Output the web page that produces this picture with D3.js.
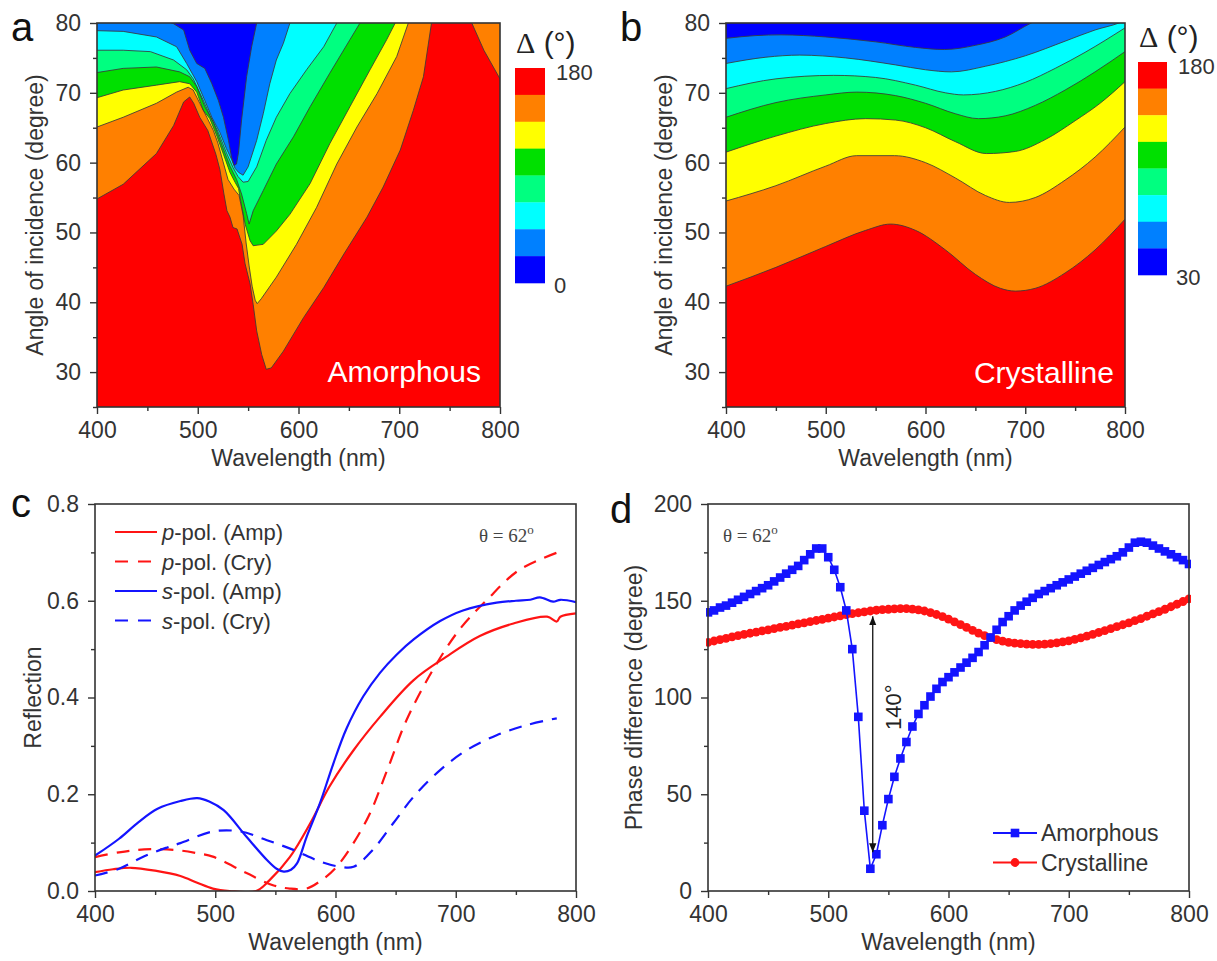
<!DOCTYPE html>
<html>
<head>
<meta charset="utf-8">
<script src="https://cdn.jsdelivr.net/npm/d3@7"></script>
<style>
	html, body { margin: 0; padding: 0; background: #fff; }
	svg { display: block; font-family: "Liberation Sans", Arial, sans-serif; }
</style>
</head>
<body>
<svg id="fig" width="1217" height="961"></svg>
<script>
;(() => {
	'use strict';

	// ---- panel a: contour level boundaries, [wavelength nm, angle deg], lowest level (157.5) first
	const amoB1 = [[400,54.8],[426,56.9],[459,61.3],[476,65.3],[486,68.7],[492,69.4],[496,68.5],[502,66.5],[510,64.6],[518,61.2],[522,59],[526,55.5],[529,53.1],[532,52.2],[535,50.7],[539,50.5],[544,48.3],[547,45.5],[552,42.6],[555,39.7],[558.5,35.9],[563.5,32.5],[568,30.4],[573,30.6],[585,33],[605,37.8],[625,42.1],[645,46.9],[668,52.2],[684,56.5],[701,61.8],[714,67.5],[724,72.3],[732,80],[740,84],[765,84],[772,80],[784,76.1],[800,72]];
	const amoB2 = [[400,65.1],[426,66.5],[459,68.5],[479,70.1],[490.5,70.8],[495.5,70.4],[502,68.5],[509,66.5],[515.5,64.6],[520,62.8],[525,60.2],[530,57.6],[536,56.2],[541,55.3],[545,52.5],[548,48.5],[551,45.2],[554,42.3],[557,40.3],[559,39.8],[563,40.5],[578,43.6],[598,48.3],[618,53.6],[638,59.8],[658,65.1],[678,69.9],[697.5,75.2],[709,80],[720,84],[800,84]];
	const amoB3 = [[400,69.3],[426,70.4],[459,71.1],[482,71.6],[492,71.3],[499,70.1],[505.5,67.5],[512,66.3],[519,63.8],[525.5,61.2],[532,58.6],[537,57.2],[540.5,56.3],[542,55],[547,51.2],[552,48.8],[555,48.1],[565,48.3],[578,50.2],[591.5,52.6],[611.5,57],[631,62.7],[651,68],[671,73.3],[687.5,77.6],[696,80],[705,84],[800,84]];
	const amoB4 = [[400,72.9],[426,73.5],[459,73.7],[482,73],[492,72.3],[499,70.9],[507,68],[515.5,65.8],[524,62.5],[532,59.5],[538.5,57.6],[543.5,55.5],[548.5,52.7],[551,51.2],[555,53.1],[565,56],[578,59.8],[595,63.7],[611.5,68],[631,72.8],[651,77.6],[661,80],[670,84],[800,84]];
	const amoB5 = [[400,76.1],[426,76.1],[453,75.9],[476,74.7],[489,73.3],[495.5,72],[504,69.4],[512,66.8],[520.5,64.3],[528.5,61.4],[535,59.3],[540,58],[545,57.2],[550,57.3],[558.5,59.4],[568,63.2],[578,66.5],[591.5,69.9],[608,73.3],[625,76.6],[638,80],[645,84],[800,84]];
	const amoB6 = [[400,78.9],[426,78.8],[459,78],[479,76.6],[489,74.2],[499,71.6],[507,68.9],[514,66.5],[522,64.3],[528.5,62],[533.5,60.5],[537,59.2],[540.5,58.6],[545,58.2],[550,59.4],[558.5,63.2],[565,67],[571.5,71.3],[578,74.7],[585,77.1],[591.5,80],[600,84],[800,84]];
	const amoB7 = [[400,83],[460,82],[474,80],[476,79.9],[486,79],[492,76.1],[499,74.2],[507,73.5],[514,71.3],[520.5,68.9],[525.5,66.5],[530.5,63.2],[533.5,60.8],[536,59.6],[538.5,59.8],[540.5,61.5],[543.5,66.1],[548.5,72.3],[553.5,76.6],[558.5,80],[565,84],[800,84]];

	// ---- panel b: contour level boundaries
	const cryB1 = [[400,42.3],[450,45],[500,48],[540,50.3],[565,51.2],[590,50.3],[620,47.5],[650,44],[675,42],[690,41.6],[710,42],[740,44.2],[770,47.5],[800,51.9]];
	const cryB2 = [[400,54.5],[450,56.7],[500,59.5],[531,61],[569,61],[600,60],[630,57.8],[660,55.3],[684,54.3],[710,55],[740,57.5],[770,60.8],[800,65.1]];
	const cryB3 = [[400,61.5],[450,63.8],[500,65.6],[540,66.3],[570,66.1],[600,65],[630,63],[661,61.3],[690,61.6],[720,63.3],[750,66],[775,68.5],[800,71.6]];
	const cryB4 = [[400,66.5],[450,68.6],[500,69.7],[531,70.1],[570,69.6],[600,68.5],[630,67],[653,66.3],[680,66.7],[710,68.2],[740,70.4],[770,73],[800,75.9]];
	const cryB5 = [[400,70.6],[450,72],[508,72.5],[550,72.2],[590,71.1],[620,70],[638,69.7],[670,70.2],[700,71.5],[730,73.5],[760,75.8],[800,79.3]];
	const cryB6 = [[400,74.2],[440,75.1],[474,75.4],[520,75],[570,74],[600,73.3],[626,73],[660,73.8],[700,75.3],[740,77.4],[770,79],[794,80],[810,81]];
	const cryB7 = [[400,77.8],[430,78.2],[455,78.3],[500,78],[550,77.3],[590,76.5],[619,76.2],[650,76.8],[680,78],[706,80],[730,81.5],[800,83]];

	// colour bands from 180 (bottom of the plot) down to the lowest level
	const bandColors = ['#ff0000', '#ff8000', '#ffff00', '#00e000', '#00ff80', '#00ffff', '#0080ff', '#0000ff'];

	// ---- panel c: reflection, [wavelength, R]
	const pAmp = [[400,0.039],[415,0.045],[430,0.048],[450,0.042],[471,0.031],[485,0.017],[498,0.005],[512,0],[534,0],[545,0.022],[562,0.07],[579,0.14],[595,0.216],[615,0.291],[637,0.36],[665,0.436],[692,0.484],[720,0.527],[748,0.553],[776,0.567],[784,0.557],[787,0.567],[800,0.574]];
	const pCry = [[400,0.07],[420,0.08],[441,0.086],[466,0.085],[485,0.078],[498,0.071],[526,0.037],[548,0.012],[562,0.005],[576,0.005],[587,0.02],[601,0.05],[626,0.147],[643,0.25],[659,0.353],[681,0.457],[703,0.54],[726,0.602],[753,0.664],[787,0.702]];
	const sAmp = [[400,0.073],[420,0.108],[436,0.142],[452,0.17],[471,0.186],[485,0.192],[495,0.185],[507,0.167],[526,0.112],[543,0.064],[551,0.046],[557,0.04],[563,0.044],[568,0.057],[576,0.112],[587,0.181],[598,0.262],[609,0.335],[623,0.402],[637,0.451],[651,0.489],[665,0.52],[687,0.558],[706,0.58],[734,0.596],[750,0.6],[762,0.602],[770,0.607],[781,0.598],[787,0.602],[800,0.597]];
	const sCry = [[400,0.032],[420,0.046],[441,0.072],[460,0.09],[471,0.099],[498,0.123],[521,0.123],[543,0.105],[565,0.085],[587,0.061],[604,0.05],[615,0.05],[631,0.085],[648,0.14],[665,0.195],[687,0.25],[709,0.291],[734,0.322],[759,0.343],[784,0.357]];

	// ---- panel d: phase difference at 5 nm steps, 400..800
	const phaseWl = d3.range(400, 801, 5);
	const ampPhase = [144,145,146.5,147.5,149,150.5,152,153.5,155,156.5,
		158,160,162,164,166,168,171,174,177,177,
		172.5,166,157,145,125,90,41.5,11.5,19,34,
		47.5,59,68.5,77,85,91.5,96,100.5,104.5,108,
		110.5,113,115.5,118,120.5,123.5,127,131,135,139,
		142,145,147.5,149.5,151.5,153.5,155,156.5,158,159.5,
		161,162.5,164,165.5,167,168.5,170,171.5,173,175,
		177.5,180,180.5,180,178.5,177,175.5,174,172.5,171,
		169];
	const cryPhase = [128.5,129.2,129.9,130.6,131.3,132,132.6,133.2,133.8,134.4,
		135,135.6,136.2,136.8,137.4,138,138.6,139.2,139.8,140.4,
		141,141.6,142.2,142.8,143.3,143.8,144.3,144.7,145.1,145.4,
		145.6,145.8,145.9,145.9,145.7,145.3,144.7,143.9,142.9,141.8,
		140.5,139.1,137.7,136.2,134.7,133.3,132,130.9,129.9,129.1,
		128.5,128.1,127.8,127.6,127.5,127.5,127.6,127.8,128.2,128.7,
		129.3,130,130.8,131.7,132.6,133.6,134.6,135.6,136.6,137.6,
		138.6,139.7,140.8,142,143.2,144.4,145.6,146.9,148.2,149.6,
		151];

	const wlMajor = [400, 500, 600, 700, 800],
		wlMinor = [450, 550, 650, 750],
		angMajor = [30, 40, 50, 60, 70, 80],
		angMinor = [25, 35, 45, 55, 65, 75];

	const ink = '#333',
		red = '#ff1414',
		blue = '#1414ff',
		fontSize = 23,
		sq = 8.6,   // square marker side
		dot = 4.4;  // circle marker radius

	const svg = d3.select('#fig');

	/**
	* ticks, tick labels, frame and titles of one panel
	*/
	const drawAxes = function(g, x, y, o) {
		const [xl, xr] = x.range(),
			[yb, yt] = y.range();

		const styleAxis = (sel) => {
			sel.attr('font-family', null).attr('font-size', null);
			sel.select('.domain').remove();
			sel.selectAll('line').attr('stroke', ink).attr('stroke-width', 1.4);
			sel.selectAll('text').attr('fill', ink).style('font-size', fontSize + 'px');
		};

		g.append('g').attr('transform', `translate(0,${yb})`)
			.call(d3.axisBottom(x).tickValues(o.xMinor).tickSize(4).tickFormat(''))
			.call(styleAxis);
		g.append('g').attr('transform', `translate(0,${yb})`)
			.call(d3.axisBottom(x).tickValues(o.xMajor).tickSize(7).tickPadding(8).tickFormat(d3.format('d')))
			.call(styleAxis);
		g.append('g').attr('transform', `translate(${xl},0)`)
			.call(d3.axisLeft(y).tickValues(o.yMinor).tickSize(4).tickFormat(''))
			.call(styleAxis);
		g.append('g').attr('transform', `translate(${xl},0)`)
			.call(d3.axisLeft(y).tickValues(o.yMajor).tickSize(7).tickPadding(9).tickFormat(o.yFmt))
			.call(styleAxis);

		g.append('rect')
			.attr('x', xl).attr('y', yt)
			.attr('width', xr - xl).attr('height', yb - yt)
			.attr('fill', 'none').attr('stroke', ink).attr('stroke-width', 1.6);

		g.append('text')
			.attr('x', (xl + xr) / 2).attr('y', yb + 59)
			.attr('text-anchor', 'middle').attr('fill', ink)
			.style('font-size', fontSize + 'px')
			.text('Wavelength (nm)');

		g.append('text')
			.attr('transform', `translate(${o.yTitleX},${(yb + yt) / 2}) rotate(-90)`)
			.attr('text-anchor', 'middle').attr('fill', ink)
			.style('font-size', fontSize + 'px')
			.text(o.yTitle);

		g.append('text')
			.attr('x', o.letter[1]).attr('y', o.letter[2])
			.attr('fill', '#111')
			.style('font-size', '40px')
			.text(o.letter[0]);
	};

	/**
	* filled contour bands drawn from the level boundaries
	*/
	const drawContour = function(g, x, y, bounds, curve, clipId) {
		const [xl, xr] = x.range(),
			[yb, yt] = y.range(),
			top = y.domain()[1] + 10;

		g.append('clipPath').attr('id', clipId)
			.append('rect')
			.attr('x', xl).attr('y', yt)
			.attr('width', xr - xl).attr('height', yb - yt);

		const body = g.append('g').attr('clip-path', `url(#${clipId})`);

		body.append('rect')
			.attr('x', xl).attr('y', yt)
			.attr('width', xr - xl).attr('height', yb - yt)
			.attr('fill', bandColors[0]);

		const area = d3.area().curve(curve)
			.x(d => x(d[0]))
			.y0(d => y(d[1]))
			.y1(() => y(top));

		const line = d3.line().curve(curve)
			.x(d => x(d[0]))
			.y(d => y(d[1]));

		bounds.forEach((b, i) => {
			body.append('path').datum(b)
				.attr('d', area)
				.attr('fill', bandColors[i + 1]);
		});
		bounds.forEach((b) => {
			body.append('path').datum(b)
				.attr('d', line)
				.attr('fill', 'none')
				.attr('stroke', '#3a3a3a')
				.attr('stroke-width', 1)
				.attr('stroke-opacity', 0.85);
		});
	};

	/**
	* 8 step colour bar with its end labels
	*/
	const drawColorbar = function(g, x0, yTop, yBot, w, lo, hi) {
		const s = d3.scaleLinear().domain([0, bandColors.length]).range([yTop, yBot]);

		g.selectAll(null)
			.data(bandColors)
			.enter()
			.append('rect')
			.attr('x', x0)
			.attr('y', (d, i) => s(i))
			.attr('width', w)
			.attr('height', (d, i) => s(i + 1) - s(i) + 0.3)
			.attr('fill', d => d);

		g.append('text')
			.attr('x', x0 + w + 11).attr('y', yTop + 12)
			.attr('fill', ink).style('font-size', '22px')
			.text(hi);
		g.append('text')
			.attr('x', x0 + w + 9).attr('y', yBot + 10)
			.attr('fill', ink).style('font-size', '22px')
			.text(lo);

		const t = g.append('text')
			.attr('x', x0 + 1).attr('y', yTop - 15)
			.attr('fill', '#222').style('font-size', '30px');
		t.append('tspan').attr('font-family', '"Liberation Serif", serif').text('\u0394');
		t.append('tspan').text(' (\u00b0)');
	};


	// ===== panel a =====
	const xa = d3.scaleLinear().domain([400, 800]).range([97, 500]),
		ya = d3.scaleLinear().domain([25, 80]).range([407, 23]);
	const ga = svg.append('g');
	drawContour(ga, xa, ya, [amoB1, amoB2, amoB3, amoB4, amoB5, amoB6, amoB7], d3.curveLinear, 'clipA');
	drawAxes(ga, xa, ya, {
		xMajor: wlMajor, xMinor: wlMinor, yMajor: angMajor, yMinor: angMinor,
		yFmt: d3.format('d'), yTitle: 'Angle of incidence (degree)', yTitleX: 43,
		letter: ['a', 11, 41]
	});
	ga.append('text')
		.attr('x', 481).attr('y', 382)
		.attr('text-anchor', 'end').attr('fill', '#fff')
		.style('font-size', '30px')
		.text('Amorphous');
	drawColorbar(ga, 515, 68, 283, 30, '0', '180');


	// ===== panel b =====
	const xb = d3.scaleLinear().domain([400, 800]).range([726, 1125]),
		yb = d3.scaleLinear().domain([25, 80]).range([407, 23]);
	const gb = svg.append('g');
	drawContour(gb, xb, yb, [cryB1, cryB2, cryB3, cryB4, cryB5, cryB6, cryB7], d3.curveMonotoneX, 'clipB');
	drawAxes(gb, xb, yb, {
		xMajor: wlMajor, xMinor: wlMinor, yMajor: angMajor, yMinor: angMinor,
		yFmt: d3.format('d'), yTitle: 'Angle of incidence (degree)', yTitleX: 672,
		letter: ['b', 620, 41]
	});
	gb.append('text')
		.attr('x', 1114).attr('y', 383)
		.attr('text-anchor', 'end').attr('fill', '#fff')
		.style('font-size', '30px')
		.text('Crystalline');
	drawColorbar(gb, 1138, 62, 275, 29, '30', '180');


	// ===== panel c =====
	const xc = d3.scaleLinear().domain([400, 800]).range([95, 576]),
		yc = d3.scaleLinear().domain([0, 0.8]).range([891, 504]);
	const gc = svg.append('g');

	gc.append('clipPath').attr('id', 'clipC')
		.append('rect').attr('x', 95).attr('y', 504).attr('width', 481).attr('height', 387);

	const reflLine = d3.line().curve(d3.curveCatmullRom.alpha(0.5))
		.x(d => xc(d[0]))
		.y(d => yc(d[1]));

	const reflSeries = [
		{ data: pAmp, color: red, dash: null, pol: 'p', name: '-pol. (Amp)' },
		{ data: pCry, color: red, dash: '13,9', pol: 'p', name: '-pol. (Cry)' },
		{ data: sAmp, color: blue, dash: null, pol: 's', name: '-pol. (Amp)' },
		{ data: sCry, color: blue, dash: '13,9', pol: 's', name: '-pol. (Cry)' }
	];

	const reflBody = gc.append('g').attr('clip-path', 'url(#clipC)');
	reflSeries.forEach((s) => {
		reflBody.append('path').datum(s.data)
			.attr('d', reflLine)
			.attr('fill', 'none')
			.attr('stroke', s.color)
			.attr('stroke-width', 2.2)
			.attr('stroke-dasharray', s.dash);
	});

	drawAxes(gc, xc, yc, {
		xMajor: wlMajor, xMinor: wlMinor, yMajor: [0, 0.2, 0.4, 0.6, 0.8], yMinor: [0.1, 0.3, 0.5, 0.7],
		yFmt: d3.format('.1f'), yTitle: 'Reflection', yTitleX: 41,
		letter: ['c', 11, 517]
	});

	// legend c
	reflSeries.forEach((s, i) => {
		const cy = 532 + i * 29.5;
		gc.append('line')
			.attr('x1', 115).attr('x2', 157)
			.attr('y1', cy).attr('y2', cy)
			.attr('stroke', s.color).attr('stroke-width', 2.2)
			.attr('stroke-dasharray', s.dash ? '13,10' : null);
		const t = gc.append('text')
			.attr('x', 162).attr('y', cy + 8)
			.attr('fill', ink).style('font-size', '22px');
		t.append('tspan').attr('font-style', 'italic').text(s.pol);
		t.append('tspan').text(s.name);
	});

	const thetaC = gc.append('text')
		.attr('x', 479).attr('y', 542)
		.attr('fill', '#444')
		.attr('font-family', '"Liberation Serif", serif')
		.style('font-size', '19px')
		.text('\u03b8 = 62');
	thetaC.append('tspan').attr('dy', -8).style('font-size', '13px').text('o');


	// ===== panel d =====
	const xd = d3.scaleLinear().domain([400, 800]).range([708, 1189]),
		yd = d3.scaleLinear().domain([0, 200]).range([891, 504]);
	const gd = svg.append('g');

	gd.append('clipPath').attr('id', 'clipD')
		.append('rect').attr('x', 706).attr('y', 504).attr('width', 485).attr('height', 389);

	const phaseBody = gd.append('g').attr('clip-path', 'url(#clipD)');
	const phaseLine = d3.line()
		.x(d => xd(d[0]))
		.y(d => yd(d[1]));

	const cryPts = phaseWl.map((w, i) => [w, cryPhase[i]]),
		ampPts = phaseWl.map((w, i) => [w, ampPhase[i]]);

	phaseBody.append('path').datum(cryPts)
		.attr('d', phaseLine).attr('fill', 'none')
		.attr('stroke', red).attr('stroke-width', 1.6);
	phaseBody.selectAll('.cry-pt')
		.data(cryPts)
		.enter()
		.append('circle')
		.attr('class', 'cry-pt')
		.attr('cx', d => xd(d[0]))
		.attr('cy', d => yd(d[1]))
		.attr('r', dot)
		.attr('fill', red);

	phaseBody.append('path').datum(ampPts)
		.attr('d', phaseLine).attr('fill', 'none')
		.attr('stroke', blue).attr('stroke-width', 1.6);
	phaseBody.selectAll('.amp-pt')
		.data(ampPts)
		.enter()
		.append('rect')
		.attr('class', 'amp-pt')
		.attr('x', d => xd(d[0]) - sq / 2)
		.attr('y', d => yd(d[1]) - sq / 2)
		.attr('width', sq)
		.attr('height', sq)
		.attr('fill', blue);

	drawAxes(gd, xd, yd, {
		xMajor: wlMajor, xMinor: wlMinor, yMajor: [0, 50, 100, 150, 200], yMinor: [25, 75, 125, 175],
		yFmt: d3.format('d'), yTitle: 'Phase difference (degree)', yTitleX: 642,
		letter: ['d', 610, 523]
	});

	// 140 degree arrow
	const defs = svg.append('defs');
	['arrS', 'arrE'].forEach((id, i) => {
		defs.append('marker')
			.attr('id', id)
			.attr('viewBox', '0 0 10 10')
			.attr('refX', 10).attr('refY', 5)
			.attr('markerWidth', 7).attr('markerHeight', 7)
			.attr('orient', i === 0 ? 'auto-start-reverse' : 'auto')
			.append('path')
			.attr('d', 'M0,1 L10,5 L0,9 Z')
			.attr('fill', '#111');
	});
	gd.append('line')
		.attr('x1', xd(537)).attr('x2', xd(537))
		.attr('y1', yd(20)).attr('y2', yd(142))
		.attr('stroke', '#111').attr('stroke-width', 1.3)
		.attr('marker-start', 'url(#arrS)')
		.attr('marker-end', 'url(#arrE)');
	gd.append('text')
		.attr('transform', `translate(${xd(537) + 28},${yd(95)}) rotate(-90)`)
		.attr('text-anchor', 'middle')
		.attr('fill', '#222')
		.style('font-size', '22px')
		.text('140\u00b0');

	const thetaD = gd.append('text')
		.attr('x', 723).attr('y', 542)
		.attr('fill', '#444')
		.attr('font-family', '"Liberation Serif", serif')
		.style('font-size', '19px')
		.text('\u03b8 = 62');
	thetaD.append('tspan').attr('dy', -8).style('font-size', '13px').text('o');

	// legend d
	const phaseLegend = [
		{ name: 'Amorphous', color: blue, shape: 'square' },
		{ name: 'Crystalline', color: red, shape: 'circle' }
	];
	phaseLegend.forEach((s, i) => {
		const cy = 833 + i * 29.5;
		gd.append('line')
			.attr('x1', 993).attr('x2', 1037)
			.attr('y1', cy).attr('y2', cy)
			.attr('stroke', s.color).attr('stroke-width', 1.8);
		if (s.shape === 'square') {
			gd.append('rect')
				.attr('x', 1015 - sq / 2).attr('y', cy - sq / 2)
				.attr('width', sq).attr('height', sq)
				.attr('fill', s.color);
		} else {
			gd.append('circle')
				.attr('cx', 1015).attr('cy', cy).attr('r', dot)
				.attr('fill', s.color);
		}
		gd.append('text')
			.attr('x', 1041).attr('y', cy + 8)
			.attr('fill', ink).style('font-size', '23px')
			.text(s.name);
	});

})();
</script>
</body>
</html>
